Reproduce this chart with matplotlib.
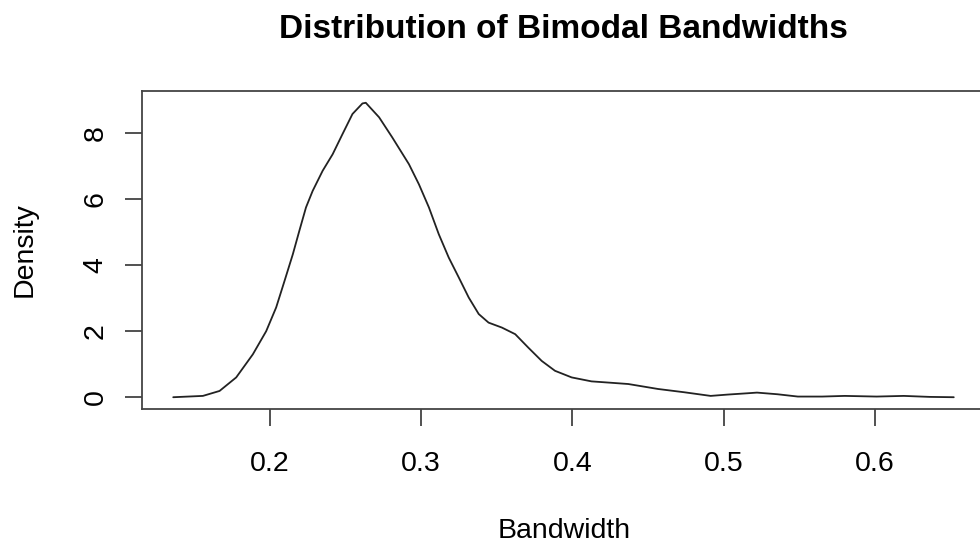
import numpy as np
import matplotlib
matplotlib.use("Agg")
import matplotlib.pyplot as plt

# kernel density estimate of the bimodal bandwidths
bandwidth = [0.1364, 0.156, 0.167, 0.178, 0.189, 0.1978, 0.2044, 0.2099,
             0.2154, 0.2197, 0.2241, 0.2285, 0.2351, 0.2417, 0.2482, 0.2548,
             0.2614, 0.2636, 0.2724, 0.2811, 0.2921, 0.2987, 0.3053, 0.3118,
             0.3184, 0.325, 0.3316, 0.3382, 0.3447, 0.3535, 0.3623, 0.371,
             0.3798, 0.3886, 0.3996, 0.4127, 0.425, 0.437, 0.4566, 0.474,
             0.4914, 0.5026, 0.5158, 0.522, 0.5355, 0.549, 0.565, 0.58,
             0.601, 0.619, 0.636, 0.652]
density = [0.0, 0.04, 0.19, 0.6, 1.3, 2.0, 2.72, 3.52,
           4.33, 5.04, 5.75, 6.25, 6.86, 7.36, 7.97, 8.58,
           8.9, 8.92, 8.48, 7.87, 7.06, 6.45, 5.75, 4.94,
           4.23, 3.63, 3.02, 2.52, 2.26, 2.11, 1.91, 1.5,
           1.1, 0.8, 0.6, 0.48, 0.44, 0.4, 0.25, 0.15,
           0.04, 0.08, 0.12, 0.14, 0.09, 0.02, 0.02, 0.04,
           0.02, 0.04, 0.01, 0.0]

x_ticks = [0.2, 0.3, 0.4, 0.5, 0.6]
y_ticks = [0, 2, 4, 6, 8]

plt.rcParams['font.family'] = ['Liberation Sans', 'DejaVu Sans']

fig = plt.figure(figsize=(9.8, 5.45), dpi=100)
ax = fig.add_axes([142 / 980, 136 / 545, 843 / 980, 318 / 545])

ax.plot(bandwidth, density, color='#222222', lw=1.3,
        solid_joinstyle='round', solid_capstyle='round')

# R-style ranges: data range padded by 4% on each side
x = np.array(bandwidth)
y = np.array(density)
xpad = (x.max() - x.min()) * 0.04
ypad = (y.max() - y.min()) * 0.04
ax.set_xlim(x.min() - xpad, x.max() + xpad)
ax.set_ylim(y.min() - ypad, y.max() + ypad)

ax.set_xticks(x_ticks)
ax.set_xticklabels([f"{t:.1f}" for t in x_ticks])
ax.set_yticks(y_ticks)
ax.set_yticklabels([str(t) for t in y_ticks], rotation=90, va='center')

ax.tick_params(axis='both', length=12, width=1.2, color='#333333',
               labelsize=20.5)
ax.tick_params(axis='x', pad=18.5)
ax.tick_params(axis='y', pad=12)
for s in ax.spines.values():
    s.set_linewidth(1.3)
    s.set_color('#444444')

ax.set_title("Distribution of Bimodal Bandwidths", fontsize=24,
             fontweight='bold', y=1.194, pad=0, va='center')
ax.set_xlabel("Bandwidth", fontsize=20.5)
ax.set_ylabel("Density", fontsize=20.5)
ax.xaxis.set_label_coords(0.5006, -0.3835)
ax.yaxis.set_label_coords(-0.1388, 0.5)
ax.xaxis.label.set_va('center')
ax.yaxis.label.set_va('center')

fig.savefig("out.png", dpi=100)
